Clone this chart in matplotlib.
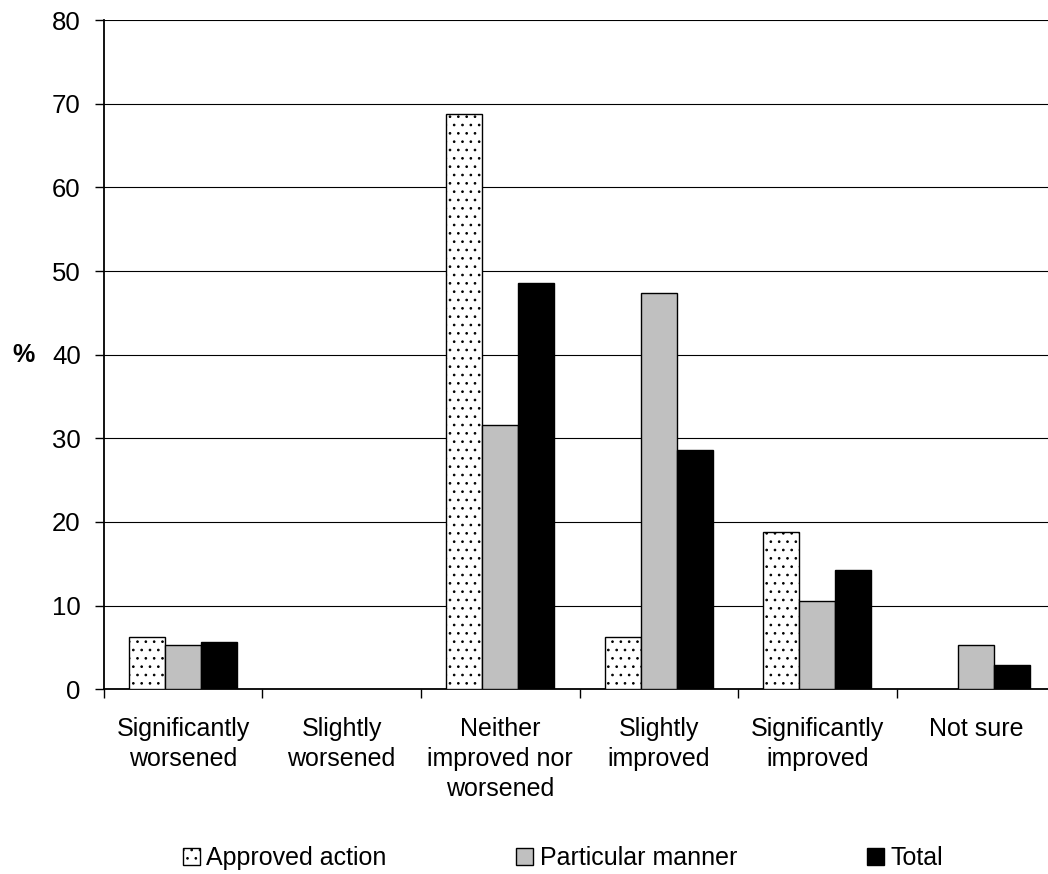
import numpy as np
import matplotlib
matplotlib.use("Agg")
import matplotlib.pyplot as plt

categories = ["Significantly\nworsened", "Slightly\nworsened", "Neither\nimproved nor\nworsened",
              "Slightly\nimproved", "Significantly\nimproved", "Not sure"]
approved = [6.25, 0, 68.75, 6.25, 18.75, 0]
particular = [5.3, 0, 31.6, 47.4, 10.5, 5.3]
total = [5.7, 0, 48.6, 28.6, 14.3, 2.9]
series_names = ["Approved action", "Particular manner", "Total"]

plt.rcParams["font.family"] = ["Liberation Sans", "DejaVu Sans"]
plt.rcParams["hatch.linewidth"] = 0.7

fig = plt.figure(figsize=(10.48, 8.74), dpi=100)
# axes runs a bit past the right edge of the figure, like the original
ax = fig.add_axes([0.099, 0.2113, 0.908, 0.7658])

x = np.arange(len(categories))
w = 0.227
b1 = ax.bar(x - w, approved, w, color="white", edgecolor="black", linewidth=1.0, hatch="..", zorder=3)
b2 = ax.bar(x, particular, w, color="#c0c0c0", edgecolor="black", linewidth=1.0, zorder=3)
b3 = ax.bar(x + w, total, w, color="black", edgecolor="black", linewidth=1.0, zorder=3)
# zero bars are not drawn in the original
for bars in (b1, b2, b3):
    for r in bars:
        if r.get_height() == 0:
            r.set_visible(False)

ax.set_xlim(-0.5, len(categories) - 0.5)
ax.set_ylim(0, 80)
ax.set_yticks(range(0, 81, 10))
ax.yaxis.grid(True, color="black", linewidth=0.8, zorder=0)
ax.set_axisbelow(True)

ax.set_xticks(x)
ax.set_xticklabels(categories, fontsize=18, linespacing=1.3)
ax.set_xticks(np.arange(-0.5, len(categories), 1.0), minor=True)
ax.tick_params(axis="x", which="major", length=0, pad=20)
ax.tick_params(axis="x", which="minor", length=6.5, width=1.0, direction="out")
ax.tick_params(axis="y", length=6.5, width=1.0, labelsize=18.5, pad=10)

for s in ("top", "right"):
    ax.spines[s].set_visible(False)
ax.spines["left"].set_linewidth(1.3)
ax.spines["bottom"].set_linewidth(1.3)

fig.text(0.012, 0.594, "%", fontsize=18, fontweight="bold", ha="left", va="center")

fig.legend([b1, b2, b3], series_names, loc="center", bbox_to_anchor=(0.537, 0.018),
           ncol=3, frameon=False, fontsize=18, handlelength=0.68, handleheight=0.68,
           handletextpad=0.25, columnspacing=5.2)

fig.savefig("out.png", dpi=100)
